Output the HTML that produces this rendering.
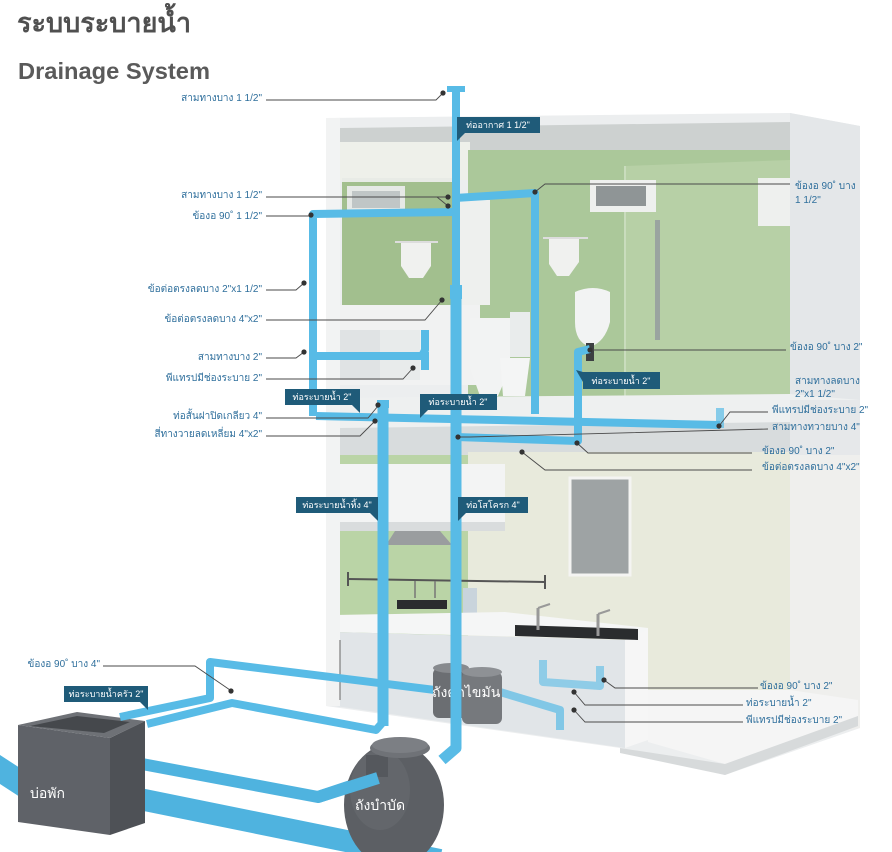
<!DOCTYPE html>
<html><head><meta charset="utf-8">
<style>
html,body{margin:0;padding:0;background:#fff;}
svg{display:block;}
.lb{font-family:"Liberation Sans","DejaVu Sans",sans-serif;font-size:10px;fill:#2f6f9c;}
.tg{font-family:"Liberation Sans","DejaVu Sans",sans-serif;font-size:9px;fill:#fff;}
.ld{fill:none;stroke:#4a4a4a;stroke-width:0.9;}
.p2{fill:none;stroke:#58bbe6;stroke-width:8;stroke-linejoin:round;stroke-linecap:butt;}
.p4{fill:none;stroke:#58bbe6;stroke-width:11;stroke-linejoin:round;}
</style></head>
<body>
<svg width="892" height="852" viewBox="0 0 892 852" xmlns="http://www.w3.org/2000/svg">
<rect width="892" height="852" fill="#fff"/>
<!-- Titles -->
<text x="17" y="32" font-family="'Liberation Sans','DejaVu Sans',sans-serif" font-size="27" font-weight="bold" fill="#505050">ระบบระบายน้ำ</text>
<text x="18" y="79" font-family="'Liberation Sans','DejaVu Sans',sans-serif" font-size="23" font-weight="bold" fill="#5a5a5a" textLength="192" lengthAdjust="spacingAndGlyphs">Drainage System</text>

<!-- Building shell -->
<polygon points="326,118 790,113 860,126 860,728 725,775 620,748 326,706" fill="#eceeef"/>
<polygon points="790,113 860,126 860,455 790,455" fill="#e4e7e9"/>
<polygon points="790,455 860,455 860,728 790,740" fill="#efefed"/>
<!-- upper ceiling -->
<polygon points="340,128 790,122 790,150 470,153 340,142" fill="#cdd1d0"/>
<rect x="340" y="142" width="130" height="38" fill="#eef0ea"/>
<!-- green wall -->
<rect x="468" y="150" width="322" height="250" fill="#abc89a"/>
<polygon points="625,166 790,160 790,405 625,405" fill="#b7d0a6"/>
<line x1="625" y1="166" x2="625" y2="405" stroke="#c9dcbd" stroke-width="2"/>
<rect x="655" y="220" width="5" height="120" fill="#9aa4a0"/>
<!-- window upper -->
<rect x="590" y="180" width="66" height="32" fill="#eef0ee"/>
<rect x="596" y="186" width="50" height="20" fill="#8f9596"/>
<!-- water heater -->
<rect x="758" y="178" width="32" height="48" fill="#eef0ee"/>
<!-- mirror -->
<rect x="342" y="178" width="113" height="132" fill="#a2bf8e"/>
<rect x="342" y="178" width="113" height="4" fill="#e8ebe6"/>
<rect x="347" y="186" width="58" height="26" fill="#e6e9e6"/>
<rect x="352" y="191" width="48" height="17" fill="#c0c6c6"/>
<!-- column -->
<rect x="458" y="200" width="32" height="105" fill="#eef0ee"/>
<!-- towels -->
<path d="M401,242 h30 v24 l-8,12 h-14 l-8,-12z" fill="#f0f1ef"/>
<line x1="395" y1="242" x2="438" y2="242" stroke="#ddd" stroke-width="2"/>
<path d="M549,238 h30 v24 l-10,14 h-12 l-8,-12z" fill="#f0f1ef"/>
<line x1="543" y1="238" x2="588" y2="238" stroke="#ddd" stroke-width="2"/>
<!-- vanity -->
<rect x="335" y="305" width="145" height="80" fill="#f1f2f2"/>
<rect x="335" y="330" width="45" height="50" fill="#e0e3e4"/>
<rect x="380" y="330" width="40" height="50" fill="#e8ebeb"/>
<!-- toilet -->
<path d="M470,318 h40 v50 l-12,28 h-18 l-10,-28z" fill="#f2f3f3"/>
<rect x="510" y="312" width="20" height="45" fill="#e9ecec"/>
<path d="M500,358 h30 l-5,38 h-22z" fill="#f4f5f5"/>
<!-- urinal -->
<path d="M575,292 q18,-8 35,0 v30 q-5,20 -20,25 q-15,-5 -15,-25z" fill="#f2f3f3"/>
<rect x="586" y="343" width="8" height="18" fill="#3c3f42"/>
<!-- floor slab between floors -->
<polygon points="326,398 790,394 860,400 860,455 326,455" fill="#eef0f0"/>
<polygon points="340,428 790,422 790,455 340,455" fill="#d8dcdd"/>
<rect x="790" y="400" width="70" height="55" fill="#e6e8ea"/>
<!-- lower floor walls -->
<rect x="340" y="455" width="130" height="185" fill="#bad4a6"/>
<rect x="468" y="452" width="322" height="250" fill="#e8eadc"/>
<!-- upper cabinet -->
<rect x="340" y="464" width="165" height="58" fill="#f3f4f4"/>
<rect x="340" y="522" width="165" height="9" fill="#d9dcdd"/>
<polygon points="395,531 440,531 452,545 386,545" fill="#9a9d9f"/>
<!-- rail -->
<line x1="348" y1="579" x2="545" y2="582" stroke="#555" stroke-width="2"/>
<line x1="348" y1="572" x2="348" y2="586" stroke="#555" stroke-width="2"/>
<line x1="545" y1="575" x2="545" y2="589" stroke="#555" stroke-width="2"/>
<line x1="415" y1="581" x2="415" y2="598" stroke="#777" stroke-width="1.5"/>
<line x1="435" y1="581" x2="435" y2="598" stroke="#777" stroke-width="1.5"/>
<rect x="463" y="588" width="14" height="28" fill="#c9d4dc"/>
<!-- window lower -->
<rect x="570" y="478" width="60" height="97" fill="#9ea3a4" stroke="#f4f4f2" stroke-width="3"/>
<!-- counter -->
<polygon points="335,615 505,612 648,628 648,640 335,632" fill="#f5f6f6"/>
<polygon points="335,632 625,640 625,748 335,706" fill="#e1e5e8"/>
<polygon points="625,640 648,630 648,740 625,748" fill="#f6f6f6"/>
<rect x="397" y="600" width="50" height="9" fill="#2a2c2e"/>
<polygon points="515,625 638,629 638,640 515,636" fill="#2a2c2e"/>
<line x1="538" y1="608" x2="538" y2="630" stroke="#999" stroke-width="3"/>
<line x1="538" y1="608" x2="550" y2="604" stroke="#999" stroke-width="2"/>
<line x1="598" y1="614" x2="598" y2="636" stroke="#999" stroke-width="3"/>
<line x1="598" y1="614" x2="610" y2="610" stroke="#999" stroke-width="2"/>
<!-- lower floor right floor -->
<polygon points="648,690 790,690 858,700 858,716 725,764 648,742" fill="#f5f5f5"/>
<polygon points="620,748 725,764 858,716 858,726 725,775 620,753" fill="#d7dadb"/>
<!-- left column -->
<rect x="326" y="118" width="14" height="588" fill="#f2f3f3"/>
<line x1="340" y1="640" x2="340" y2="700" stroke="#666" stroke-width="1"/>

<!-- Ground pipes -->
<polygon points="0,755 20,768 20,797 0,784" fill="#4fb3df"/>
<polyline points="110,793 440,860" fill="none" stroke="#4fb3df" stroke-width="22"/>
<polyline points="110,758 318,797 375,778" fill="none" stroke="#4fb3df" stroke-width="12" stroke-linejoin="round"/>

<!-- Box บ่อพัก -->
<polygon points="18,725 77,712 145,721 110,738" fill="#6e7176"/>
<polygon points="30,726 77,716 130,722 104,733" fill="#45484c"/>
<polygon points="18,725 110,738 110,835 18,822" fill="#5f6268"/>
<polygon points="110,738 145,721 145,823 110,835" fill="#4e5156"/>
<text x="30" y="798" font-family="'Liberation Sans','DejaVu Sans',sans-serif" font-size="14" fill="#fff">บ่อพัก</text>

<!-- Kitchen pipes -->
<polyline class="p2" points="120,717 210,698 210,662 435,690"/>
<polyline class="p2" points="147,724 232,703 376,730 383,722"/>
<polyline class="p2" points="500,692 560,710 560,730" opacity="0.7"/>
<polyline class="p2" points="543,660 543,682 600,686 600,666" opacity="0.6" stroke-width="6"/>

<!-- Grease traps -->
<rect x="433" y="668" width="36" height="50" rx="6" fill="#6b6e72"/>
<ellipse cx="451" cy="668" rx="18" ry="5" fill="#878a8e"/>
<rect x="462" y="672" width="40" height="52" rx="6" fill="#76797d"/>
<ellipse cx="482" cy="672" rx="20" ry="5" fill="#8e9195"/>
<text x="432" y="697" font-family="'Liberation Sans','DejaVu Sans',sans-serif" font-size="14" fill="#fff">ถังดักไขมัน</text>

<!-- Tank -->
<ellipse cx="394" cy="805" rx="50" ry="62" fill="#5c5f64"/>
<ellipse cx="380" cy="790" rx="30" ry="40" fill="#676a6f" opacity="0.6"/>
<rect x="366" y="755" width="22" height="22" fill="#55585d"/>
<ellipse cx="400" cy="748" rx="30" ry="10" fill="#6f7277"/>
<ellipse cx="400" cy="745" rx="28" ry="8" fill="#7c7f84"/>
<polyline points="318,797 378,778" fill="none" stroke="#4fb3df" stroke-width="12"/>
<text x="355" y="810" font-family="'Liberation Sans','DejaVu Sans',sans-serif" font-size="14" fill="#fff">ถังบำบัด</text>

<!-- Building pipes -->
<polyline class="p2" points="313,416 313,214 455,212"/>
<polyline class="p2" points="455,198 535,193 535,414"/>
<polyline class="p2" points="313,356 422,356 425,350 425,330"/>
<polyline class="p2" points="425,370 425,352" stroke-width="6"/>
<polyline class="p2" points="316,416 720,425"/>
<polyline class="p2" points="720,408 720,428" stroke-width="6" opacity="0.7"/>
<polyline class="p2" points="456,437 578,441 578,352 590,349"/>
<line x1="456" y1="88" x2="456" y2="292" stroke="#58bbe6" stroke-width="8"/>
<rect x="447" y="86" width="18" height="6" fill="#58bbe6"/>
<rect x="450" y="285" width="12" height="14" fill="#58bbe6"/>
<polyline class="p4" points="456,296 456,748 442,760"/>
<polyline class="p4" points="383,402 383,726"/>
<rect x="377" y="400" width="12" height="8" fill="#58bbe6"/>

<!-- Tags -->
<g>
<rect x="457" y="117" width="83" height="16" fill="#1f5b79"/>
<polygon points="457,133 465,133 457,141" fill="#1f5b79"/>
<text class="tg" x="498" y="128" text-anchor="middle">ท่ออากาศ 1 1/2"</text>

<rect x="285" y="389" width="75" height="16" fill="#1f5b79"/>
<polygon points="352,405 360,405 360,413" fill="#1f5b79"/>
<text class="tg" x="322" y="400" text-anchor="middle">ท่อระบายน้ำ 2"</text>

<rect x="420" y="394" width="77" height="16" fill="#1f5b79"/>
<polygon points="420,410 428,410 420,418" fill="#1f5b79"/>
<text class="tg" x="458" y="405" text-anchor="middle">ท่อระบายน้ำ 2"</text>

<rect x="583" y="372" width="77" height="17" fill="#1f5b79"/>
<polygon points="583,372 583,382 576,370" fill="#1f5b79"/>
<text class="tg" x="621" y="384" text-anchor="middle">ท่อระบายน้ำ 2"</text>

<rect x="296" y="497" width="82" height="16" fill="#1f5b79"/>
<polygon points="370,513 378,513 378,521" fill="#1f5b79"/>
<text class="tg" x="337" y="508" text-anchor="middle">ท่อระบายน้ำทิ้ง 4"</text>

<rect x="458" y="497" width="70" height="16" fill="#1f5b79"/>
<polygon points="458,513 466,513 458,521" fill="#1f5b79"/>
<text class="tg" x="493" y="508" text-anchor="middle">ท่อโสโครก 4"</text>

<rect x="64" y="686" width="84" height="16" fill="#1f5b79"/>
<polygon points="140,702 148,702 148,710" fill="#1f5b79"/>
<text class="tg" x="106" y="697" text-anchor="middle">ท่อระบายน้ำครัว 2"</text>
</g>

<!-- Leader lines -->
<g class="ld">
<path d="M266,100 H436 L443,93"/>
<path d="M266,197 H437 L448,197 M437,197 L448,206"/>
<path d="M266,216 H311"/>
<path d="M266,290 H296 L304,283"/>
<path d="M266,320 H425 L442,300"/>
<path d="M266,358 H296 L304,352"/>
<path d="M266,379 H403 L413,368"/>
<path d="M266,418 H368 L378,406"/>
<path d="M266,436 H360 L375,421"/>
<path d="M535,192 L545,184 H790"/>
<path d="M590,350 H786"/>
<path d="M768,412 H730 L719,426"/>
<path d="M768,429 L470,437 L458,437"/>
<path d="M752,453 H588 L577,443"/>
<path d="M752,470 H545 L522,452"/>
<path d="M758,688 H615 L604,680"/>
<path d="M743,705 H585 L574,692"/>
<path d="M743,722 H585 L574,710"/>
<path d="M103,666 H195 L230,690"/>
</g>
<g fill="#333">
<circle cx="443" cy="93" r="2.6"/>
<circle cx="448" cy="197" r="2.6"/>
<circle cx="448" cy="206" r="2.6"/>
<circle cx="311" cy="215" r="2.6"/>
<circle cx="304" cy="283" r="2.6"/>
<circle cx="442" cy="300" r="2.6"/>
<circle cx="304" cy="352" r="2.6"/>
<circle cx="413" cy="368" r="2.6"/>
<circle cx="378" cy="405" r="2.6"/>
<circle cx="375" cy="421" r="2.6"/>
<circle cx="535" cy="192" r="2.6"/>
<circle cx="590" cy="350" r="2.6"/>
<circle cx="719" cy="426" r="2.6"/>
<circle cx="458" cy="437" r="2.6"/>
<circle cx="577" cy="443" r="2.6"/>
<circle cx="522" cy="452" r="2.6"/>
<circle cx="604" cy="680" r="2.6"/>
<circle cx="574" cy="692" r="2.6"/>
<circle cx="574" cy="710" r="2.6"/>
<circle cx="231" cy="691" r="2.6"/>
</g>

<!-- Left labels -->
<g class="lb" text-anchor="end">
<text x="262" y="101">สามทางบาง 1 1/2"</text>
<text x="262" y="198">สามทางบาง 1 1/2"</text>
<text x="262" y="219">ข้องอ 90˚ 1 1/2"</text>
<text x="262" y="292">ข้อต่อตรงลดบาง 2"x1 1/2"</text>
<text x="262" y="322">ข้อต่อตรงลดบาง 4"x2"</text>
<text x="262" y="360">สามทางบาง 2"</text>
<text x="262" y="381">พีแทรปมีช่องระบาย 2"</text>
<text x="262" y="419">ท่อสั้นฝาปิดเกลียว 4"</text>
<text x="262" y="437">สี่ทางวายลดเหลี่ยม 4"x2"</text>
<text x="100" y="667">ข้องอ 90˚ บาง 4"</text>
</g>
<!-- Right labels -->
<g class="lb">
<text x="795" y="189">ข้องอ 90˚ บาง</text>
<text x="795" y="203">1 1/2"</text>
<text x="790" y="350">ข้องอ 90˚ บาง 2"</text>
<text x="795" y="384">สามทางลดบาง</text>
<text x="795" y="397">2"x1 1/2"</text>
<text x="772" y="413">พีแทรปมีช่องระบาย 2"</text>
<text x="772" y="430">สามทางทวายบาง 4"</text>
<text x="762" y="454">ข้องอ 90˚ บาง 2"</text>
<text x="762" y="470">ข้อต่อตรงลดบาง 4"x2"</text>
<text x="760" y="689">ข้องอ 90˚ บาง 2"</text>
<text x="746" y="706">ท่อระบายน้ำ 2"</text>
<text x="746" y="723">พีแทรปมีช่องระบาย 2"</text>
</g>
</svg>
</body></html>
